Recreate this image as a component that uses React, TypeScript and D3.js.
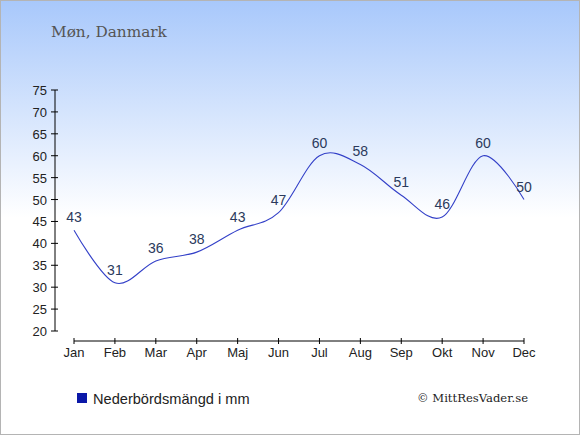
import React, { useEffect, useRef } from "react";
import * as d3 from "d3";

const months = ["Jan", "Feb", "Mar", "Apr", "Maj", "Jun", "Jul", "Aug", "Sep", "Okt", "Nov", "Dec"];
const rainfall = [43, 31, 36, 38, 43, 47, 60, 58, 51, 46, 60, 50];
const yTicks = [20, 25, 30, 35, 40, 45, 50, 55, 60, 65, 70, 75];

const W = 580;
const H = 435;

const App: React.FC = () => {
  const ref = useRef<SVGSVGElement | null>(null);

  useEffect(() => {
    if (!ref.current) return;
    const svg = d3.select(ref.current);
    svg.selectAll("*").remove();

    // background gradient
    const defs = svg.append("defs");
    const grad = defs.append("linearGradient")
      .attr("id", "bg")
      .attr("x1", 0).attr("y1", 0).attr("x2", 0).attr("y2", 1);
    grad.append("stop").attr("offset", "0%").attr("stop-color", "#a8c8fb");
    grad.append("stop").attr("offset", "50%").attr("stop-color", "#ffffff");
    grad.append("stop").attr("offset", "100%").attr("stop-color", "#ffffff");

    svg.append("rect")
      .attr("x", 0.5).attr("y", 0.5)
      .attr("width", W - 1).attr("height", H - 1)
      .attr("fill", "url(#bg)")
      .attr("stroke", "#b4b4b4")
      .attr("stroke-width", 1);

    svg.append("text")
      .attr("x", 51).attr("y", 37)
      .attr("font-family", "'DejaVu Serif', serif")
      .attr("font-size", "15.3px")
      .attr("fill", "#555555")
      .text("Møn, Danmark");

    const x = d3.scalePoint<string>().domain(months).range([74, 524]);
    const y = d3.scaleLinear().domain([20, 75]).range([331, 90]);

    // y axis
    const yAxis = svg.append("g");
    yAxis.append("line")
      .attr("x1", 55).attr("x2", 55)
      .attr("y1", y(75)).attr("y2", y(20))
      .attr("stroke", "#000").attr("stroke-width", 1);
    yTicks.forEach(t => {
      yAxis.append("line")
        .attr("x1", 51).attr("x2", 58)
        .attr("y1", y(t)).attr("y2", y(t))
        .attr("stroke", "#000");
      yAxis.append("text")
        .attr("x", 47).attr("y", y(t) + 5)
        .attr("text-anchor", "end")
        .attr("font-family", "'Liberation Sans', Arial, sans-serif")
        .attr("font-size", "13px")
        .attr("fill", "#222")
        .text(t);
    });

    // x axis
    const xAxis = svg.append("g");
    const axisY = 341;
    xAxis.append("line")
      .attr("x1", x("Jan")!).attr("x2", x("Dec")!)
      .attr("y1", axisY).attr("y2", axisY)
      .attr("stroke", "#000");
    months.forEach(m => {
      xAxis.append("line")
        .attr("x1", x(m)!).attr("x2", x(m)!)
        .attr("y1", axisY - 3).attr("y2", axisY + 3)
        .attr("stroke", "#000");
      xAxis.append("text")
        .attr("x", x(m)!).attr("y", 357)
        .attr("text-anchor", "middle")
        .attr("font-family", "'Liberation Sans', Arial, sans-serif")
        .attr("font-size", "13px")
        .attr("fill", "#222")
        .text(m);
    });

    // rainfall line
    const line = d3.line<number>()
      .x((_, i) => x(months[i])!)
      .y(d => y(d))
      .curve(d3.curveCardinal.tension(0));
    svg.append("path")
      .attr("d", line(rainfall) || "")
      .attr("fill", "none")
      .attr("stroke", "#3340c8")
      .attr("stroke-width", 1.1);

    rainfall.forEach((v, i) => {
      svg.append("text")
        .attr("x", x(months[i])!).attr("y", y(v) - 8)
        .attr("text-anchor", "middle")
        .attr("font-family", "'Liberation Sans', Arial, sans-serif")
        .attr("font-size", "14px")
        .attr("fill", "#2b3a5c")
        .text(v);
    });

    // legend
    svg.append("rect")
      .attr("x", 77).attr("y", 393)
      .attr("width", 10).attr("height", 10)
      .attr("fill", "#0b18a8");
    svg.append("text")
      .attr("x", 93).attr("y", 404)
      .attr("font-family", "'Liberation Sans', Arial, sans-serif")
      .attr("font-size", "14.6px")
      .attr("fill", "#222")
      .text("Nederbördsmängd i mm");

    svg.append("text")
      .attr("x", 528).attr("y", 402)
      .attr("text-anchor", "end")
      .attr("font-family", "'DejaVu Serif', serif")
      .attr("font-size", "11.6px")
      .attr("fill", "#222")
      .text("© MittResVader.se");
  }, []);

  return (
    <div style={{ position: "absolute", left: 0, top: 0 }}>
      <svg ref={ref} width={W} height={H} style={{ display: "block" }} />
    </div>
  );
};

export default App;
